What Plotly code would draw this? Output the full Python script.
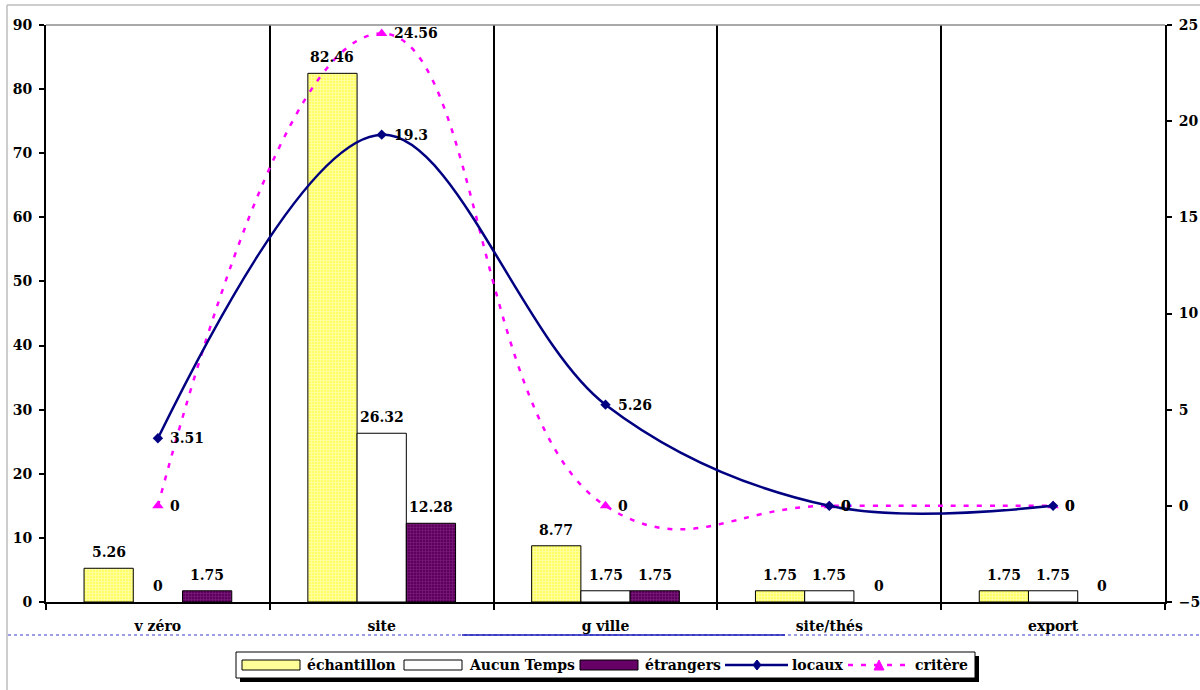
import plotly.graph_objects as go

# ---- data -------------------------------------------------------------
categories = ["v zéro", "site", "g ville", "site/thés", "export"]
echantillon = [5.26, 82.46, 8.77, 1.75, 1.75]
aucun_temps = [0, 26.32, 1.75, 1.75, 1.75]
etrangers = [1.75, 12.28, 1.75, 0, 0]
locaux = [3.51, 19.3, 5.26, 0, 0]
critere = [0, 24.56, 0, 0, 0]

left_ticks = [0, 10, 20, 30, 40, 50, 60, 70, 80, 90]
right_ticks = [-5, 0, 5, 10, 15, 20, 25]

# ---- styling ----------------------------------------------------------
FONT = "DejaVu Serif"
LBL = dict(family=FONT, size=14, color="black", weight="bold")
W_FIG, H_FIG = 1200, 690
L, R, T, B = 46, 1165, 25, 602          # plot-area edges in pixels
BARGAP = 0.34

def px_x(px):
    return (px - L) / (R - L)

def px_y(py):
    return (B - py) / (B - T)

def fmt(v):
    return f"{v:g}"

def outline_widths(values):
    # no outline on empty bars so they leave no stroke on the axis
    return [1 if v else 0 for v in values]

fig = go.Figure()

bar_series = [
    ("échantillon", echantillon,
     dict(color="#FFFF80",
          pattern=dict(shape="+", fgcolor="#FFFFE6", bgcolor="#FFFF66", size=3, solidity=0.45))),
    ("Aucun Temps", aucun_temps, dict(color="white")),
    ("étrangers", etrangers,
     dict(color="#660066",
          pattern=dict(shape="+", fgcolor="#9A3C9A", bgcolor="#5E005E", size=3, solidity=0.35))),
]
for name, vals, mk in bar_series:
    mk = dict(mk, line=dict(color="black", width=outline_widths(vals)))
    fig.add_trace(go.Bar(x=categories, y=vals, name=name, marker=mk, showlegend=False))

fig.add_trace(go.Scatter(
    x=categories, y=critere, name="critère", yaxis="y2", mode="lines+markers",
    line=dict(color="#FF00FF", width=2.5, dash="5px,8px", shape="spline", smoothing=1.3),
    marker=dict(symbol="triangle-up", size=10, color="#FF00FF"),
    showlegend=False,
))
fig.add_trace(go.Scatter(
    x=categories, y=locaux, name="locaux", yaxis="y2", mode="lines+markers",
    line=dict(color="#000080", width=2.5, shape="spline", smoothing=1),
    marker=dict(symbol="diamond", size=8, color="#000080"),
    showlegend=False,
))

shapes = []
annotations = []

# value labels above the bars (offset to each bar of the group)
cat_px = (R - L) / len(categories)
bar_px = cat_px * (1 - BARGAP) / len(bar_series)
for k, (name, vals, _) in enumerate(bar_series):
    shift = (k - (len(bar_series) - 1) / 2) * bar_px
    for c, v in zip(categories, vals):
        annotations.append(dict(text=fmt(v), x=c, y=v, xref="x", yref="y",
                                xanchor="center", yanchor="middle",
                                xshift=shift, yshift=16, showarrow=False, font=LBL))

# value labels to the right of the line markers
for vals in (critere, locaux):
    for c, v in zip(categories, vals):
        annotations.append(dict(text=fmt(v), x=c, y=v, xref="x", yref="y2",
                                xanchor="left", yanchor="middle",
                                xshift=10, yshift=0, showarrow=False, font=LBL))

# top border of the plot area
shapes.append(dict(type="line", xref="paper", yref="paper", x0=0, x1=1, y0=1, y1=1,
                   line=dict(color="#8C8C8C", width=1.5)))
# outer light frame
shapes.append(dict(type="line", xref="paper", yref="paper",
                   x0=px_x(7), x1=px_x(1200), y0=px_y(5), y1=px_y(5),
                   line=dict(color="#BDBDBD", width=1.5)))
shapes.append(dict(type="line", xref="paper", yref="paper",
                   x0=px_x(7), x1=px_x(7), y0=px_y(5), y1=px_y(690),
                   line=dict(color="#BDBDBD", width=1.5)))
# blue separator under the category labels
shapes.append(dict(type="line", xref="paper", yref="paper",
                   x0=px_x(8), x1=px_x(1200), y0=px_y(635), y1=px_y(635),
                   line=dict(color="#3A3ACF", width=1, dash="dot")))
shapes.append(dict(type="line", xref="paper", yref="paper",
                   x0=px_x(462), x1=px_x(785), y0=px_y(635), y1=px_y(635),
                   line=dict(color="#1A1AB8", width=1.5)))

# legend box with drop shadow
shapes.append(dict(type="rect", xref="paper", yref="paper",
                   x0=px_x(240), x1=px_x(979), y0=px_y(682), y1=px_y(656),
                   fillcolor="black", line=dict(width=0)))
shapes.append(dict(type="rect", xref="paper", yref="paper",
                   x0=px_x(236), x1=px_x(975), y0=px_y(678), y1=px_y(652),
                   fillcolor="white", line=dict(color="black", width=1)))

leg_y = 665
swatches = [
    ("échantillon", 242, 300, "#FFFF99", 305),
    ("Aucun Temps", 404, 462, "white", 467),
    ("étrangers", 580, 638, "#660066", 643),
]
for name, x0, x1, col, tx in swatches:
    shapes.append(dict(type="rect", xref="paper", yref="paper",
                       x0=px_x(x0), x1=px_x(x1), y0=px_y(leg_y + 5), y1=px_y(leg_y - 5),
                       fillcolor=col, line=dict(color="black", width=1)))
    annotations.append(dict(text=name, xref="paper", yref="paper", x=px_x(tx), y=px_y(leg_y),
                            xanchor="left", yanchor="middle", showarrow=False, font=LBL))

# locaux legend entry
shapes.append(dict(type="line", xref="paper", yref="paper",
                   x0=px_x(725), x1=px_x(788), y0=px_y(leg_y), y1=px_y(leg_y),
                   line=dict(color="#000080", width=2.5)))
dx, dy = 4 / (R - L), 5 / (B - T)
cx, cy = px_x(757), px_y(leg_y)
shapes.append(dict(type="path", xref="paper", yref="paper",
                   path=f"M {cx-dx},{cy} L {cx},{cy+dy} L {cx+dx},{cy} L {cx},{cy-dy} Z",
                   fillcolor="#000080", line=dict(color="#000080", width=1)))
annotations.append(dict(text="locaux", xref="paper", yref="paper", x=px_x(790), y=px_y(leg_y),
                        xanchor="left", yanchor="middle", showarrow=False, font=LBL))

# critère legend entry
shapes.append(dict(type="line", xref="paper", yref="paper",
                   x0=px_x(848), x1=px_x(907), y0=px_y(leg_y), y1=px_y(leg_y),
                   line=dict(color="#FF00FF", width=2.5, dash="5px,8px")))
dx, dy = 5 / (R - L), 5 / (B - T)
cx, cy = px_x(879), px_y(leg_y)
shapes.append(dict(type="path", xref="paper", yref="paper",
                   path=f"M {cx-dx},{cy-dy} L {cx},{cy+dy} L {cx+dx},{cy-dy} Z",
                   fillcolor="#FF00FF", line=dict(color="#FF00FF", width=1)))
annotations.append(dict(text="critère", xref="paper", yref="paper", x=px_x(913), y=px_y(leg_y),
                        xanchor="left", yanchor="middle", showarrow=False, font=LBL))

fig.update_layout(
    width=W_FIG, height=H_FIG, autosize=False,
    margin=dict(l=L, r=W_FIG - R, t=T, b=H_FIG - B, pad=0, autoexpand=False),
    paper_bgcolor="white", plot_bgcolor="white",
    barmode="group", bargap=BARGAP, bargroupgap=0,
    font=dict(family=FONT, size=14, color="black"),
    xaxis=dict(type="category", range=[-0.5, 4.5], tickson="boundaries",
               showgrid=True, gridcolor="black", gridwidth=2,
               showline=True, linecolor="black", linewidth=1.5,
               ticks="outside", ticklen=6, tickcolor="black", tickwidth=1.5,
               tickfont=LBL, ticklabelstandoff=10, automargin=False),
    yaxis=dict(range=[0, 90], tickvals=left_ticks, showgrid=False, zeroline=False,
               showline=True, linecolor="black", linewidth=2,
               ticks="outside", ticklen=5, tickcolor="black", tickwidth=1.5,
               tickfont=LBL, ticklabelstandoff=4, automargin=False),
    yaxis2=dict(range=[-5, 25], tickvals=right_ticks, overlaying="y", side="right",
                showgrid=False, zeroline=False,
                showline=True, linecolor="black", linewidth=2,
                ticks="outside", ticklen=5, tickcolor="black", tickwidth=1.5,
                tickfont=LBL, ticklabelstandoff=4, automargin=False),
    shapes=shapes, annotations=annotations,
    showlegend=False,
)

fig.write_html("out.html")
